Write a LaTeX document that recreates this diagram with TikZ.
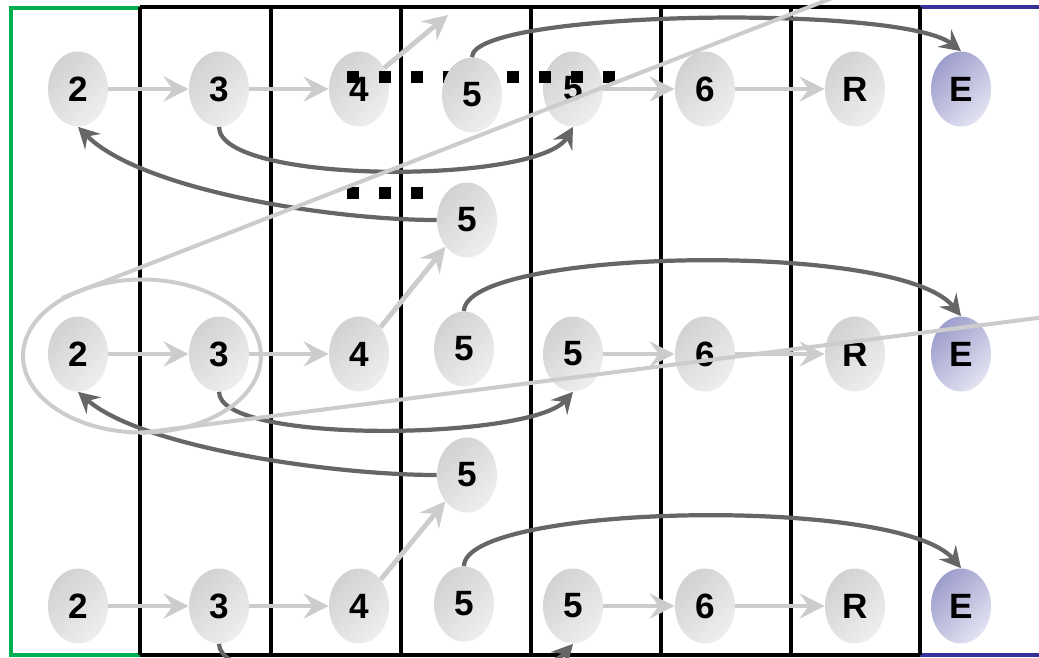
\documentclass[tikz,border=0pt]{standalone}
\usepackage{fontspec}
\setmainfont{Liberation Sans}
\usetikzlibrary{arrows.meta,shapes.geometric}

\definecolor{nodedark}{HTML}{D2D2D2}
\definecolor{nodelight}{HTML}{EEEEEE}
\definecolor{enddark}{HTML}{9E9ECC}
\definecolor{endlight}{HTML}{E2E2F2}
\definecolor{lightarr}{HTML}{CCCCCC}
\definecolor{darkarr}{HTML}{666666}
\definecolor{framegreen}{HTML}{00B050}
\definecolor{frameblue}{HTML}{333399}

\begin{document}
\begin{tikzpicture}[x=0.02cm,y=-0.02cm,
  st/.style={ellipse,minimum width=1.2cm,minimum height=1.5cm,inner sep=0pt,
    font=\fontsize{20}{24}\selectfont\bfseries,
    top color=nodedark,bottom color=nodelight,shading angle=45},
  endst/.style={st,top color=enddark,bottom color=endlight,shading angle=45},
  larr/.style={-{Stealth[length=5mm,width=5mm,inset=1.8mm]},line width=2.8pt,color=lightarr},
  darr/.style={-{Stealth[length=4.2mm,width=4.4mm,inset=1.5mm]},line width=2.4pt,color=darkarr},
  lasso/.style={line width=2.3pt,color=lightarr}]
\useasboundingbox (0,0) rectangle (1039,657);
\clip (0,0) rectangle (1039,657);
% frames
\draw[line width=1.9pt,framegreen] (140,8) -- (11,8) -- (11,655) -- (140,655);
\draw[line width=1.9pt,frameblue] (920,7) -- (1039,7) (920,655) -- (1039,655);
\draw[line width=2.4pt] (140,7) -- (920,7) (140,655) -- (920,655);
\foreach \x in {140,271,401,531,661,791,920}
  \draw[line width=2.4pt] (\x,7) -- (\x,655);
% rows of states
\foreach \r/\y in {a/89,b/354,c/606} {
  \node[st] (\r-2) at (78,\y) {2};
  \node[st] (\r-3) at (219,\y) {3};
  \node[st] (\r-4) at (359,\y) {4};
  \node[st] (\r-5) at (573,\y) {5};
  \node[st] (\r-6) at (705,\y) {6};
  \node[st] (\r-R) at (855,\y) {R};
  \node[endst] (\r-E) at (961,\y) {E};
}
% dotted marks
\foreach \x in {353,385,...,609}
  \fill (\x-6,71) rectangle (\x+6,83);
\foreach \x in {353,385,417}
  \fill (\x-6,187) rectangle (\x+6,199);
% middle states
\node[st] (a-5m) at (472,95) {5};
\node[st] (b-5m) at (464,349) {5};
\node[st] (c-5m) at (464,604) {5};
\node[st] (a-5b) at (467,220) {5};
\node[st] (b-5b) at (467,475) {5};
% straight steps
\foreach \r in {a,b,c} {
  \draw[larr] (\r-2) -- (\r-3);
  \draw[larr] (\r-3) -- (\r-4);
  \draw[larr] (\r-5) -- (\r-6);
  \draw[larr] (\r-6) -- (\r-R);
}
\coordinate (a-up) at (448,15);
\draw[larr] (a-4) -- (a-up);
\draw[larr] (b-4) -- (a-5b);
\draw[larr] (c-4) -- (b-5b);
% jumps
\draw[darr] (a-5m.north) .. controls +(0,-47) and +(-60,-47) .. (a-E.north);
\draw[darr] (b-5m.north) .. controls +(0,-62) and +(-62,-77) .. (b-E.north);
\draw[darr] (c-5m.north) .. controls +(0,-62) and +(-62,-73) .. (c-E.north);
\draw[darr] (a-3.south) .. controls +(0,58) and +(-33,58) .. (a-5.south);
\draw[darr] (b-3.south) .. controls +(0,53) and +(-43,48) .. (b-5.south);
\draw[darr] (c-3.south) .. controls +(0,53) and +(-43,48) .. (c-5.south);
\draw[darr] (a-5b.west) .. controls +(-107,0) and +(63,63) .. (a-2.south);
\draw[darr] (b-5b.west) .. controls +(-107,0) and +(63,55) .. (b-2.south);
% lasso
\coordinate (lasA) at (62,298);
\coordinate (lasB) at (840,-5);
\coordinate (lasC) at (140,433);
\coordinate (lasD) at (1045,317);
\draw[lasso] (142,356) ellipse [x radius=2.38cm,y radius=1.53cm];
\draw[lasso] (lasA) -- (lasB);
\draw[lasso] (lasC) -- (lasD);
\end{tikzpicture}
\end{document}
